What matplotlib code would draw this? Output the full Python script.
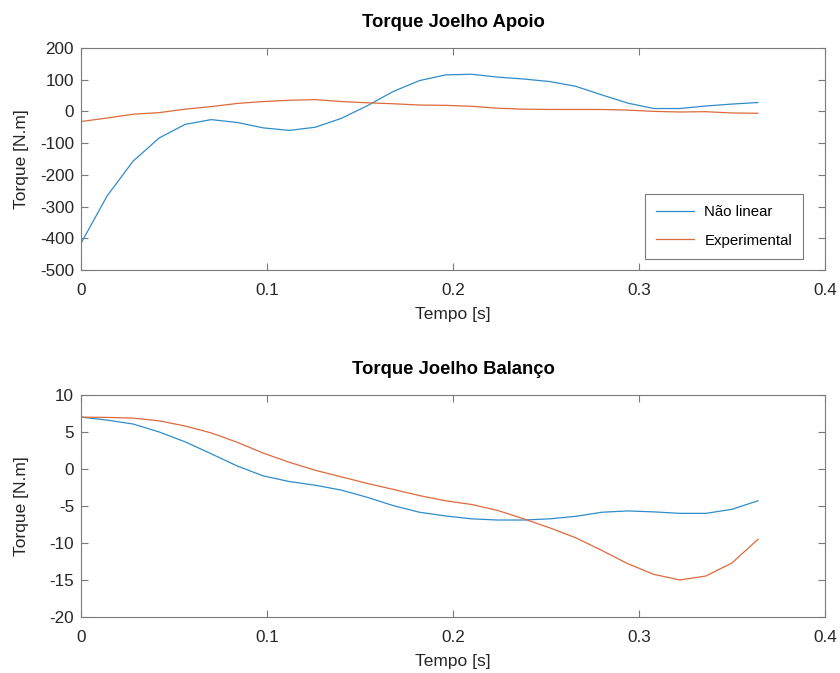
import numpy as np
import matplotlib
matplotlib.use('Agg')
import matplotlib.pyplot as plt

plt.rcParams['font.family'] = ['Liberation Sans', 'DejaVu Sans']
plt.rcParams['axes.unicode_minus'] = False

# time samples (s)
tempo = np.arange(27) * 0.014

# Torque Joelho Apoio [N.m]
apoio_nao_linear = [-416, -267, -157, -84, -41, -26, -35, -52, -60, -50, -22, 18, 63, 97,
                    115, 117, 108, 102, 94, 79, 52, 26, 9, 9, 17, 23, 28]
apoio_experimental = [-32, -21, -9, -4, 7, 15, 25, 31, 35, 37, 31, 27, 24, 20,
                      19, 16, 10, 7, 6, 6, 6, 4, 0, -2, -1, -5, -6]

# Torque Joelho Balanco [N.m]
balanco_nao_linear = [7.0, 6.6, 6.07, 5.0, 3.66, 2.05, 0.4, -0.94, -1.7, -2.2, -2.86, -3.84, -4.96, -5.85,
                      -6.35, -6.74, -6.9, -6.9, -6.74, -6.4, -5.85, -5.67, -5.8, -6.0, -6.0, -5.45, -4.3]
balanco_experimental = [7.0, 6.96, 6.87, 6.5, 5.8, 4.87, 3.6, 2.14, 0.9, -0.18, -1.07, -1.96, -2.77, -3.6,
                        -4.3, -4.8, -5.6, -6.74, -7.95, -9.3, -11.0, -12.8, -14.24, -15.0, -14.46, -12.7, -9.5]

blue = '#2f8dc9'
orange = '#de6a3c'
spinecol = '#7a7a7a'
textcol = '#262626'

fig = plt.figure(figsize=(8.4, 6.73), dpi=100)
ax1 = fig.add_axes([0.0964, 0.5988, 0.8857, 0.33])
ax2 = fig.add_axes([0.0964, 0.0832, 0.8857, 0.33])


def style(ax):
    for s in ax.spines.values():
        s.set_color(spinecol)
        s.set_linewidth(0.8)
    ax.tick_params(direction='in', top=True, right=True, color=spinecol,
                   labelcolor=textcol, labelsize=12.3, length=5, width=0.8)
    ax.tick_params(axis='x', pad=9)
    ax.tick_params(axis='y', pad=5)
    ax.set_xlim(0, 0.4)
    ax.set_xticks([0, 0.1, 0.2, 0.3, 0.4])
    ax.set_xticklabels(['0', '0.1', '0.2', '0.3', '0.4'])
    ax.set_xlabel('Tempo [s]', fontsize=12.5, color=textcol, labelpad=7)
    ax.set_ylabel('Torque [N.m]', fontsize=12.5, color=textcol)
    ax.yaxis.set_label_coords(-0.07, 0.5)


ax1.plot(tempo, apoio_nao_linear, color=blue, lw=0.9, label='Não linear')
ax1.plot(tempo, apoio_experimental, color=orange, lw=0.9, label='Experimental')
ax1.set_ylim(-500, 200)
ax1.set_yticks(range(-500, 201, 100))
ax1.set_title('Torque Joelho Apoio', fontsize=13.3, fontweight='bold', color='black', pad=15)
style(ax1)
leg = ax1.legend(loc='lower right', bbox_to_anchor=(0.971, 0.05), fontsize=10.8,
                 fancybox=False, framealpha=1, handlelength=2.5, handletextpad=0.7,
                 borderpad=0.75, borderaxespad=0, labelspacing=0.95)
leg.get_frame().set_edgecolor(spinecol)
leg.get_frame().set_linewidth(0.8)

ax2.plot(tempo, balanco_nao_linear, color=blue, lw=0.9)
ax2.plot(tempo, balanco_experimental, color=orange, lw=0.9)
ax2.set_ylim(-20, 10)
ax2.set_yticks(range(-20, 11, 5))
ax2.set_title('Torque Joelho Balanço', fontsize=13.3, fontweight='bold', color='black', pad=15)
style(ax2)

fig.savefig('out.png', dpi=100)
